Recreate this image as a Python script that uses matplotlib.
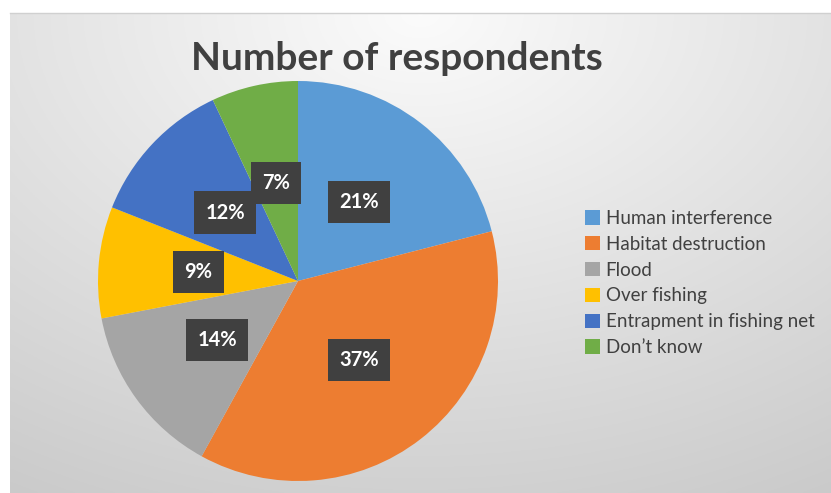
import matplotlib.pyplot as plt
import numpy as np

categories = ["Human interference", "Habitat destruction", "Flood",
              "Over fishing", "Entrapment in fishing net", "Don\u2019t know"]
shares = [21, 37, 14, 9, 12, 7]
colors = ["#5B9BD5", "#ED7D31", "#A5A5A5", "#FFC000", "#4472C4", "#70AD47"]

W, H = 831, 493
fig = plt.figure(figsize=(W / 100, H / 100), dpi=100)
fig.patch.set_facecolor("white")

# chart area with soft radial gradient
bg = fig.add_axes([10 / W, 0, 1 - 10 / W, (H - 13) / H])
yy, xx = np.mgrid[0:1:300j, 0:1:500j]
d = np.sqrt(((xx - 0.5) * 1.1) ** 2 + (yy * 0.95) ** 2)
shade = 0.985 - 0.21 * np.clip(d, 0, 1.2) / 1.2
bg.imshow(np.dstack([shade] * 3), aspect="auto", extent=[0, 1, 1, 0])
bg.set_axis_off()
fig.add_artist(plt.Line2D([10 / W, 1], [(H - 13) / H] * 2, color="#d0d0d0", lw=1))

fig.text(397 / W, 1 - 58 / H, "Number of respondents", ha="center", va="center",
         fontsize=28, fontweight="bold", color="#404040", family="Lato")

R = 200
ax = fig.add_axes([(298 - R) / W, (H - 281 - R) / H, 2 * R / W, 2 * R / H])
wedges, texts, autotexts = ax.pie(
    shares, colors=colors, startangle=90, counterclock=False,
    autopct="%d%%", pctdistance=0.5, wedgeprops=dict(linewidth=0),
    textprops=dict(color="white", fontsize=14.5, fontweight="bold", family="Lato"))
for t in autotexts:
    t.set_bbox(dict(facecolor="#404040", edgecolor="none", boxstyle="square,pad=0.55"))
ax.set_xlim(-1, 1)
ax.set_ylim(-1, 1)

leg = fig.legend(wedges, categories, loc="upper left",
                 bbox_to_anchor=(585 / W, 1 - 210 / H), frameon=False,
                 borderaxespad=0, borderpad=0,
                 prop=dict(family="Lato", size=13.5), labelspacing=0.47,
                 handlelength=0.8, handleheight=0.8, handletextpad=0.3)
for t in leg.get_texts():
    t.set_color("#404040")

fig.savefig("out.png", dpi=100)
